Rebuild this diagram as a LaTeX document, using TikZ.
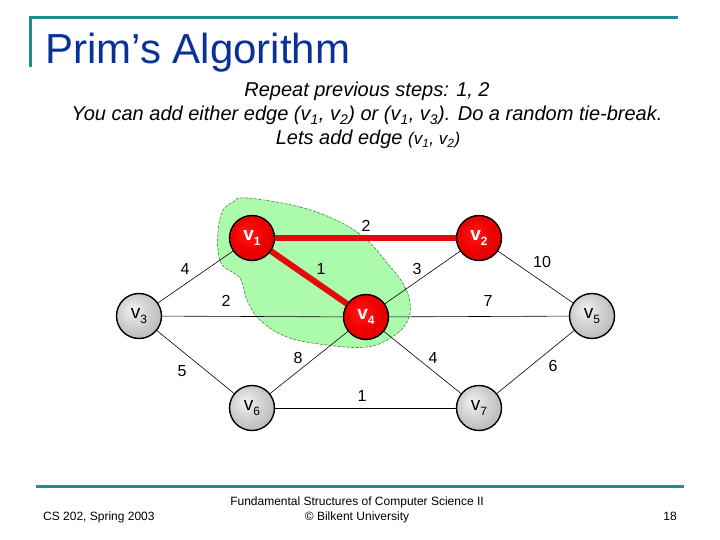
\documentclass[tikz,border=0pt]{standalone}
\usepackage{fontspec}
\setmainfont{Liberation Sans}
\definecolor{titleblue}{RGB}{10,50,150}
\definecolor{teal}{RGB}{35,140,140}
\definecolor{edgered}{RGB}{228,10,10}
\definecolor{blobfill}{RGB}{172,250,172}
\definecolor{blobline}{RGB}{60,140,60}
\pgfdeclareradialshading{greyball}{\pgfpoint{-8bp}{8bp}}{color(0bp)=(gray!10); color(14bp)=(gray!32); color(30bp)=(gray!55); color(50bp)=(gray!70)}
\pgfdeclareradialshading{redball}{\pgfpoint{-6bp}{6bp}}{color(0bp)=(red!90!white); color(18bp)=(red!94!black); color(35bp)=(red!84!black); color(50bp)=(red!76!black)}
\newcommand{\vsub}[1]{\raisebox{-0.25em}{\fontsize{12}{12}\selectfont #1}}
\begin{document}
\begin{tikzpicture}[x=1pt,y=-1pt,
  vert/.style={circle, draw=black, line width=1.4pt, minimum size=45pt, inner sep=0pt},
  greyv/.style={vert, shading=greyball, font=\fontsize{19}{20}\selectfont},
  redv/.style={vert, shading=redball, text=white, font=\fontsize{19}{20}\selectfont\bfseries},
  edge/.style={draw=black, line width=0.6pt},
  redge/.style={draw=edgered, line width=6pt},
  wlabel/.style={font=\fontsize{16}{18}\selectfont, inner sep=0pt},
  subtxt/.style={anchor=base, inner sep=0pt, font=\fontsize{20}{24}\selectfont\itshape},
  foot/.style={inner sep=0pt, font=\fontsize{12}{14}\selectfont},
  rule/.style={draw=teal, line width=3pt}
]
\useasboundingbox[fill=white] (0,0) rectangle (720,540);
% header and footer rules
\coordinate (tl) at (30,18);
\coordinate (tr) at (678,18);
\coordinate (tb) at (30,67);
\draw[rule] (tb) -- (tl) -- (tr);
\coordinate (bl) at (36,486);
\coordinate (br) at (684,486);
\draw[rule] (bl) -- (br);
% title
\node[anchor=base west, inner sep=0pt, text=titleblue, font=\fontsize{42}{48}\selectfont] (title) at (45,64) {Prim’s Algorithm};
% subtitle
\node[subtxt] (s1) at (367,97) {Repeat previous steps: 1, 2};
\node[subtxt] (s2) at (367,121) {You can add either edge (v\textsubscript{1}, v\textsubscript{2}) or (v\textsubscript{1}, v\textsubscript{3}). Do a random tie-break.};
\node[subtxt] (s3) at (368,145) {Lets add edge {\fontsize{17}{20}\selectfont(v\textsubscript{1}, v\textsubscript{2})}};
% blob
\draw[fill=blobfill, draw=blobline, dashed, dash pattern=on 3pt off 1.5pt, line width=0.6pt]
  plot[smooth cycle, tension=0.65] coordinates {
  (247,198) (300,207) (340,222) (367,240) (387,263) (402,282) (410,302) (407,322)
  (392,337) (367,347) (327,345) (287,337) (260,320) (247,300) (240,278) (223,266)
  (218,250) (218,232) (222,212) (233,202)};
% nodes positions
\coordinate (p1) at (252,238);
\coordinate (p2) at (479,238);
\coordinate (p3) at (139,316);
\coordinate (p4) at (366,317);
\coordinate (p5) at (592,316);
\coordinate (p6) at (252,408);
\coordinate (p7) at (479,408);
% edges (drawn before nodes)
\path[edge] (p1) -- (p3);
\path[edge] (p2) -- (p4);
\path[edge] (p2) -- (p5);
\path[edge] (p3) -- (p4);
\path[edge] (p3) -- (p6);
\path[edge] (p4) -- (p5);
\path[edge] (p4) -- (p6);
\path[edge] (p4) -- (p7);
\path[edge] (p5) -- (p7);
\path[edge] (p6) -- (p7);
\path[redge] (p1) -- (p2);
\path[redge] (p1) -- (p4);
% vertices
\node[redv] (v1) at (p1) {v\vsub{1}};
\node[redv] (v2) at (p2) {v\vsub{2}};
\node[greyv] (v3) at (p3) {v\vsub{3}};
\node[redv] (v4) at (p4) {v\vsub{4}};
\node[greyv] (v5) at (p5) {v\vsub{5}};
\node[greyv] (v6) at (p6) {v\vsub{6}};
\node[greyv] (v7) at (p7) {v\vsub{7}};
% weights
\node[wlabel] (w12) at (366,226) {2};
\node[wlabel] (w13) at (185,269) {4};
\node[wlabel] (w14) at (321,269) {1};
\node[wlabel] (w24) at (417,269) {3};
\node[wlabel] (w25) at (542,262) {10};
\node[wlabel] (w34) at (226,301) {2};
\node[wlabel] (w45) at (488,301) {7};
\node[wlabel] (w46) at (298,358) {8};
\node[wlabel] (w47) at (433,358) {4};
\node[wlabel] (w36) at (182,371) {5};
\node[wlabel] (w57) at (553,366) {6};
\node[wlabel] (w67) at (362,396) {1};
% footer
\node[foot, anchor=west] (f1) at (43,517) {CS 202, Spring 2003};
\node[foot, anchor=center] (f2) at (357,502) {Fundamental Structures of Computer Science II};
\node[foot, anchor=center] (f3) at (357,517) {© Bilkent University};
\node[foot, anchor=east] (f4) at (677,516) {18};
\end{tikzpicture}
\end{document}
